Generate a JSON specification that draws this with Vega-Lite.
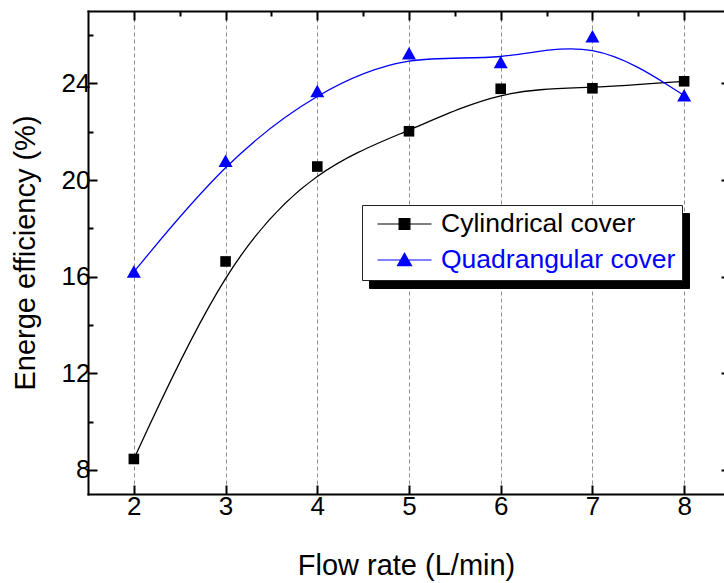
{
  "$schema": "https://vega.github.io/schema/vega-lite/v6.json",
  "width": 636,
  "height": 483,
  "autosize": {"type": "none"},
  "padding": {"left": 88, "top": 11, "right": 0, "bottom": 89},
  "background": "white",
  "config": {
    "view": {"stroke": null},
    "font": "Liberation Sans",
    "axis": {
      "labelFont": "Liberation Sans",
      "titleFont": "Liberation Sans",
      "labelFontSize": 26,
      "titleFontSize": 29,
      "titleFontWeight": "normal",
      "labelColor": "black",
      "titleColor": "black",
      "domainColor": "black",
      "domainWidth": 2,
      "domainCap": "square",
      "tickColor": "black",
      "tickWidth": 2,
      "grid": false
    }
  },
  "data": {
    "values": [
      {"series": "Cylindrical cover", "flow": 2, "eff": 8.45},
      {"series": "Cylindrical cover", "flow": 3, "eff": 16.63},
      {"series": "Cylindrical cover", "flow": 4, "eff": 20.56},
      {"series": "Cylindrical cover", "flow": 5, "eff": 22.02},
      {"series": "Cylindrical cover", "flow": 6, "eff": 23.78},
      {"series": "Cylindrical cover", "flow": 7, "eff": 23.8},
      {"series": "Cylindrical cover", "flow": 8, "eff": 24.09},
      {"series": "Quadrangular cover", "flow": 2, "eff": 16.2},
      {"series": "Quadrangular cover", "flow": 3, "eff": 20.79},
      {"series": "Quadrangular cover", "flow": 4, "eff": 23.68},
      {"series": "Quadrangular cover", "flow": 5, "eff": 25.24},
      {"series": "Quadrangular cover", "flow": 6, "eff": 24.88},
      {"series": "Quadrangular cover", "flow": 7, "eff": 25.94},
      {"series": "Quadrangular cover", "flow": 8, "eff": 23.5}
    ]
  },
  "layer": [
    {
      "mark": {"type": "line", "interpolate": "basis", "strokeWidth": 1.3},
      "encoding": {
        "x": {
          "field": "flow", "type": "quantitative",
          "scale": {"domain": [1.5, 8.4346], "nice": false, "zero": false},
          "axis": {
            "orient": "bottom",
            "title": "Flow rate (L/min)",
            "values": [2, 2.5, 3, 3.5, 4, 4.5, 5, 5.5, 6, 6.5, 7, 7.5, 8],
            "format": "d",
            "labelExpr": "datum.value % 1 === 0 ? datum.label : ''",
            "grid": true,
            "gridColor": "#8c8c8c",
            "gridDash": [4, 3],
            "gridWidth": 1,
            "gridOpacity": {"condition": {"test": "datum.value % 1 !== 0", "value": 0}, "value": 1},
            "tickSize": {"condition": {"test": "datum.value % 1 === 0", "value": -9}, "value": -5},
            "labelPadding": 8,
            "titleY": 80,
            "titleBaseline": "alphabetic"
          }
        },
        "y": {
          "field": "eff", "type": "quantitative",
          "scale": {"domain": [7, 27], "nice": false, "zero": false},
          "axis": {
            "orient": "left",
            "title": "Energe efficiency (%)",
            "values": [8, 10, 12, 14, 16, 18, 20, 22, 24, 26],
            "format": "d",
            "labelExpr": "datum.value % 4 === 0 ? datum.label : ''",
            "tickSize": {"condition": {"test": "datum.value % 4 === 0", "value": -9}, "value": -5},
            "labelPadding": 7,
            "titleX": -54,
            "titleBaseline": "alphabetic"
          }
        },
        "color": {
          "field": "series", "type": "nominal",
          "scale": {"range": ["black", "blue"]},
          "legend": {
            "orient": "none", "legendX": 274, "legendY": 194, "title": null, "zindex": 2,
            "padding": 6, "symbolOffset": 8.5, "labelOffset": 8.5, "rowPadding": 9, "clipHeight": 26,
            "symbolSize": 2916, "symbolStrokeWidth": 1.2,
            "labelFont": "Liberation Sans", "labelFontSize": 26.5, "labelLimit": 400,
            "fillColor": "white", "strokeColor": "#222",
            "encode": {
              "symbols": {"update": {
                "shape": {"signal": "datum.value === 'Cylindrical cover' ? 'M-1,0H1M-0.2,-0.2H0.2V0.2H-0.2Z' : 'M-1,0H1M0,-0.25L0.26,0.21L-0.26,0.21Z'"},
                "fill": {"signal": "datum.value === 'Cylindrical cover' ? 'black' : 'blue'"},
                "stroke": {"signal": "datum.value === 'Cylindrical cover' ? 'black' : 'blue'"},
                "strokeWidth": {"value": 1.2},
                "opacity": {"value": 1}
              }},
              "labels": {"update": {"fill": {"signal": "datum.value === 'Quadrangular cover' ? 'blue' : 'black'"}}}
            }
          }
        },
        "opacity": {
          "field": "series", "type": "ordinal",
          "scale": {"domain": ["Cylindrical cover", "Quadrangular cover"], "range": [1, 1]},
          "legend": {
            "orient": "none", "legendX": 281, "legendY": 202, "title": null, "zindex": 1,
            "padding": 6, "symbolOffset": 8.5, "labelOffset": 8.5, "rowPadding": 9, "clipHeight": 26,
            "symbolSize": 2916, "symbolType": "M-1,0H1", "symbolStrokeColor": "black", "symbolStrokeWidth": 1.2,
            "labelFont": "Liberation Sans", "labelFontSize": 26.5, "labelLimit": 400, "labelColor": "black",
            "fillColor": "black", "strokeColor": "black"
          }
        }
      }
    },
    {
      "mark": {"type": "point", "filled": true, "opacity": 1, "size": 400},
      "encoding": {
        "x": {
          "field": "flow", "type": "quantitative",
          "axis": {
            "orient": "top", "title": null, "labels": false,
            "values": [2, 2.5, 3, 3.5, 4, 4.5, 5, 5.5, 6, 6.5, 7, 7.5, 8],
            "tickSize": {"condition": {"test": "datum.value % 1 === 0", "value": -9}, "value": -5}
          }
        },
        "y": {
          "field": "eff", "type": "quantitative",
          "axis": {
            "orient": "right", "title": null, "labels": false, "offset": 6,
            "values": [8, 10, 12, 14, 16, 18, 20, 22, 24, 26],
            "tickSize": {"condition": {"test": "datum.value % 4 === 0", "value": -9}, "value": -5}
          }
        },
        "color": {
          "field": "series", "type": "nominal",
          "scale": {"range": ["black", "blue"]}
        },
        "shape": {
          "field": "series", "type": "nominal",
          "scale": {"range": ["M-0.53,-0.53H0.53V0.53H-0.53Z", "M0,-0.65L0.7,0.6L-0.7,0.6Z"]}
        }
      }
    }
  ],
  "resolve": {"axis": {"x": "independent", "y": "independent"}}
}
